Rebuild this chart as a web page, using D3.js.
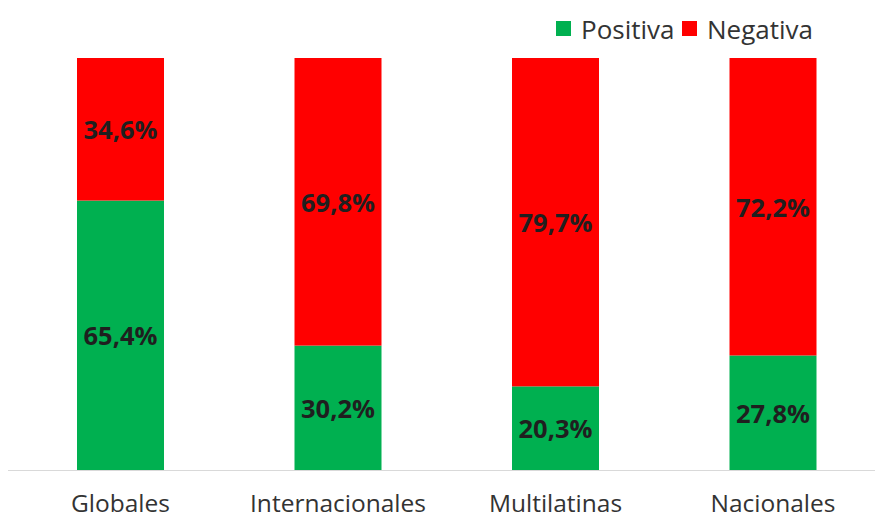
<!DOCTYPE html>
<html>
<head>
<meta charset="utf-8">
<script src="https://cdn.jsdelivr.net/npm/d3@7/dist/d3.min.js"></script>
<style>
  html, body { margin: 0; padding: 0; background: #ffffff; }
  svg { display: block; }
</style>
</head>
<body>
<svg id="chart" width="875" height="519"></svg>
<script>
// Categories and stacked percentages (Positiva at the bottom, Negativa on top)
const categories = ["Globales", "Internacionales", "Multilatinas", "Nacionales"];
const positiva = [65.4, 30.2, 20.3, 27.8];
const negativa = [34.6, 69.8, 79.7, 72.2];
const seriesNames = ["Positiva", "Negativa"];
const seriesColors = ["#00B050", "#FF0000"];

const svg = d3.select("#chart");
const font = "'Open Sans', 'Noto Sans', sans-serif";

const x = d3.scaleBand()
  .domain(categories)
  .range([11.75, 881.75])
  .paddingInner(0.6)
  .paddingOuter(0.3);

const y = d3.scaleLinear().domain([0, 100]).range([470, 58]);

const rows = categories.map((c, i) => ({ cat: c, Positiva: positiva[i], Negativa: negativa[i] }));
const stacked = d3.stack().keys(seriesNames)(rows);

const fmt = v => v.toFixed(1).replace(".", ",") + "%";

const layers = svg.selectAll("g.layer")
  .data(stacked)
  .join("g")
  .attr("class", "layer")
  .attr("fill", (d, i) => seriesColors[i]);

layers.selectAll("rect")
  .data(d => d)
  .join("rect")
  .attr("x", d => x(d.data.cat))
  .attr("width", x.bandwidth())
  .attr("y", d => y(d[1]))
  .attr("height", d => y(d[0]) - y(d[1]));

// Value labels centred in each segment
layers.selectAll("text")
  .data(d => d.map(s => ({ s, key: d.key })))
  .join("text")
  .attr("x", d => x(d.s.data.cat) + x.bandwidth() / 2)
  .attr("y", d => (y(d.s[0]) + y(d.s[1])) / 2)
  .attr("text-anchor", "middle")
  .attr("dominant-baseline", "central")
  .attr("font-family", font)
  .attr("font-weight", "bold")
  .attr("font-size", 25.5)
  .attr("fill", "#1f1f1f")
  .text(d => fmt(d.s.data[d.key]));

// Category axis along the baseline
const axis = svg.append("g")
  .attr("transform", `translate(0,${y(0)})`)
  .call(d3.axisBottom(x).tickSize(0));
axis.select(".domain").attr("stroke", "#d9d9d9").attr("stroke-width", 1.2)
  .attr("d", "M8,0.5H875");
axis.selectAll(".tick text")
  .attr("y", 42)
  .attr("dy", null)
  .attr("font-family", font)
  .attr("font-size", 24.5)
  .attr("fill", "#333333");

// Legend, top right
const legend = svg.append("g").attr("transform", "translate(556,28.5)");
const legendX = [0, 126];
seriesNames.forEach((name, i) => {
  const g = legend.append("g").attr("transform", `translate(${legendX[i]},0)`);
  g.append("rect").attr("x", 0).attr("y", -7.5).attr("width", 15).attr("height", 15)
    .attr("fill", seriesColors[i]);
  g.append("text").attr("x", 25).attr("y", 0)
    .attr("dominant-baseline", "central")
    .attr("font-family", font).attr("font-size", 26)
    .attr("fill", "#333333")
    .text(name);
});
</script>
</body>
</html>
